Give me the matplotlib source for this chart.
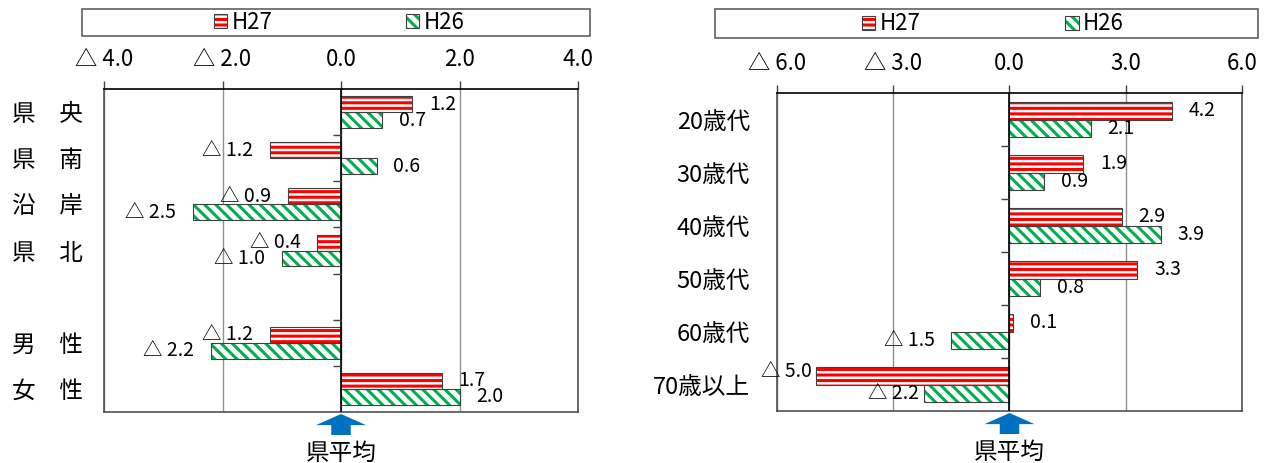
import matplotlib.pyplot as plt
from matplotlib.patches import Patch, Rectangle
import numpy as np

# 日本語フォント
plt.rcParams['font.family'] = ['Noto Sans CJK JP', 'DejaVu Sans']
plt.rcParams['hatch.linewidth'] = 2.2

# データ
area_labels = ['県　央', '県　南', '沿　岸', '県　北', '', '男　性', '女　性']
area_h27 = [1.2, -1.2, -0.9, -0.4, np.nan, -1.2, 1.7]
area_h26 = [0.7, 0.6, -2.5, -1.0, np.nan, -2.2, 2.0]

age_labels = ['20歳代', '30歳代', '40歳代', '50歳代', '60歳代', '70歳以上']
age_h27 = [4.2, 1.9, 2.9, 3.3, 0.1, -5.0]
age_h26 = [2.1, 0.9, 3.9, 0.8, -1.5, -2.2]

series_names = ['H27', 'H26']
left_ticks = [-4, -2, 0, 2, 4]
right_ticks = [-6, -3, 0, 3, 6]
avg_label = '県平均'

RED = '#FF0000'
GREEN = '#00B050'
BLUE = '#0070C0'
EDGE = '#404040'
HATCH_RED = '---'
HATCH_GREEN = '\\\\\\'


def fmt(v):
    return f'\u25b3 {abs(v):.1f}' if v < 0 else f'{v:.1f}'


def draw(ax, labels, s27, s26, ticks, bh, lab_pad, tick_len, nudge):
    n = len(labels)
    y = np.arange(n)
    for k, (vals, off, col, hatch) in enumerate([(s27, -bh / 2, RED, HATCH_RED),
                                                  (s26, bh / 2, GREEN, HATCH_GREEN)]):
        vals = np.array(vals, dtype=float)
        m = ~np.isnan(vals)
        ax.barh(y[m] + off, vals[m], height=bh, color='white', edgecolor=col,
                hatch=hatch, lw=0, zorder=3)
        ax.barh(y[m] + off, vals[m], height=bh, fill=False, edgecolor=EDGE,
                lw=0.8, zorder=4)
        for i in y[m]:
            v = vals[i]
            dx, dy = nudge.get((i, k), (12, 0))
            ax.annotate(fmt(v), xy=(v, i + off), xytext=(dx if v >= 0 else -dx, dy),
                        textcoords='offset points', ha='left' if v >= 0 else 'right',
                        va='center', fontsize=14, zorder=5)

    ax.set_xlim(ticks[0], ticks[-1])
    ax.set_ylim(n - 0.5, -0.5)
    ax.set_xticks(ticks)
    ax.set_xticklabels([fmt(t) for t in ticks])
    ax.xaxis.tick_top()
    ax.tick_params(axis='x', direction='out', length=6, width=1, pad=7,
                   labelsize=16, color='#404040')
    ax.set_yticks(y)
    ax.set_yticklabels(labels)
    ax.tick_params(axis='y', length=0, pad=lab_pad, labelsize=17)
    ax.grid(axis='x', color='#909090', lw=1, zorder=0)
    ax.axvline(0, color='black', lw=1.2, zorder=6)
    ax.hlines(y[:-1] + 0.5, -tick_len, 0, color=EDGE, lw=1, zorder=6)
    for s in ['left', 'right', 'bottom']:
        ax.spines[s].set_color('#505050')
        ax.spines[s].set_linewidth(1.2)
    ax.spines['top'].set_color('black')
    ax.spines['top'].set_linewidth(1.2)

    # 県平均の矢印
    tr = ax.get_xaxis_transform()
    h = ax.get_window_extent().height
    ax.annotate('', xy=(0, -2 / h), xycoords=tr, xytext=(0, -23 / h), textcoords=tr,
                arrowprops=dict(arrowstyle='simple,head_length=0.8,head_width=3.6,tail_width=1.4',
                                mutation_scale=10, fc=BLUE, ec=BLUE, lw=0,
                                shrinkA=0, shrinkB=0), annotation_clip=False)
    ax.text(0, -30 / h, avg_label, transform=tr, ha='center', va='top', fontsize=17)


def legend(fig, box, center, spacing):
    x0, y0, x1, y1 = box
    W, H = 1264, 463
    fig.patches.append(Rectangle((x0 / W, 1 - y1 / H), (x1 - x0) / W, (y1 - y0) / H,
                                 transform=fig.transFigure, fill=False,
                                 edgecolor='#606060', lw=1.2))
    handles = [(Patch(facecolor='white', edgecolor=RED, hatch=HATCH_RED, lw=0),
                Patch(fill=False, edgecolor=EDGE, lw=0.8)),
               (Patch(facecolor='white', edgecolor=GREEN, hatch=HATCH_GREEN, lw=0),
                Patch(fill=False, edgecolor=EDGE, lw=0.8))]
    fig.legend(handles, series_names, loc='center',
               bbox_to_anchor=(center[0] / W, 1 - center[1] / H), ncol=2,
               frameon=False, fontsize=16, handlelength=0.6, handleheight=0.6,
               handletextpad=0.2, columnspacing=spacing, borderpad=0)


fig = plt.figure(figsize=(12.64, 4.63), dpi=100)
ax1 = fig.add_axes([104 / 1264, 1 - 412 / 463, 474 / 1264, 323 / 463])
ax2 = fig.add_axes([777 / 1264, 1 - 411 / 463, 465 / 1264, 318 / 463])

draw(ax1, area_labels, area_h27, area_h26, left_ticks, 0.345, 15, 0.13, {})
draw(ax2, age_labels, age_h27, age_h26, right_ticks, 0.33, 19.5, 0.22,
     {(5, 0): (3, 3), (5, 1): (3.5, 0)})

legend(fig, (82, 9, 590, 36), (339, 22.5), 6.0)
legend(fig, (715, 9, 1258, 38), (993, 24), 6.5)

fig.savefig('out.png', dpi=100)
